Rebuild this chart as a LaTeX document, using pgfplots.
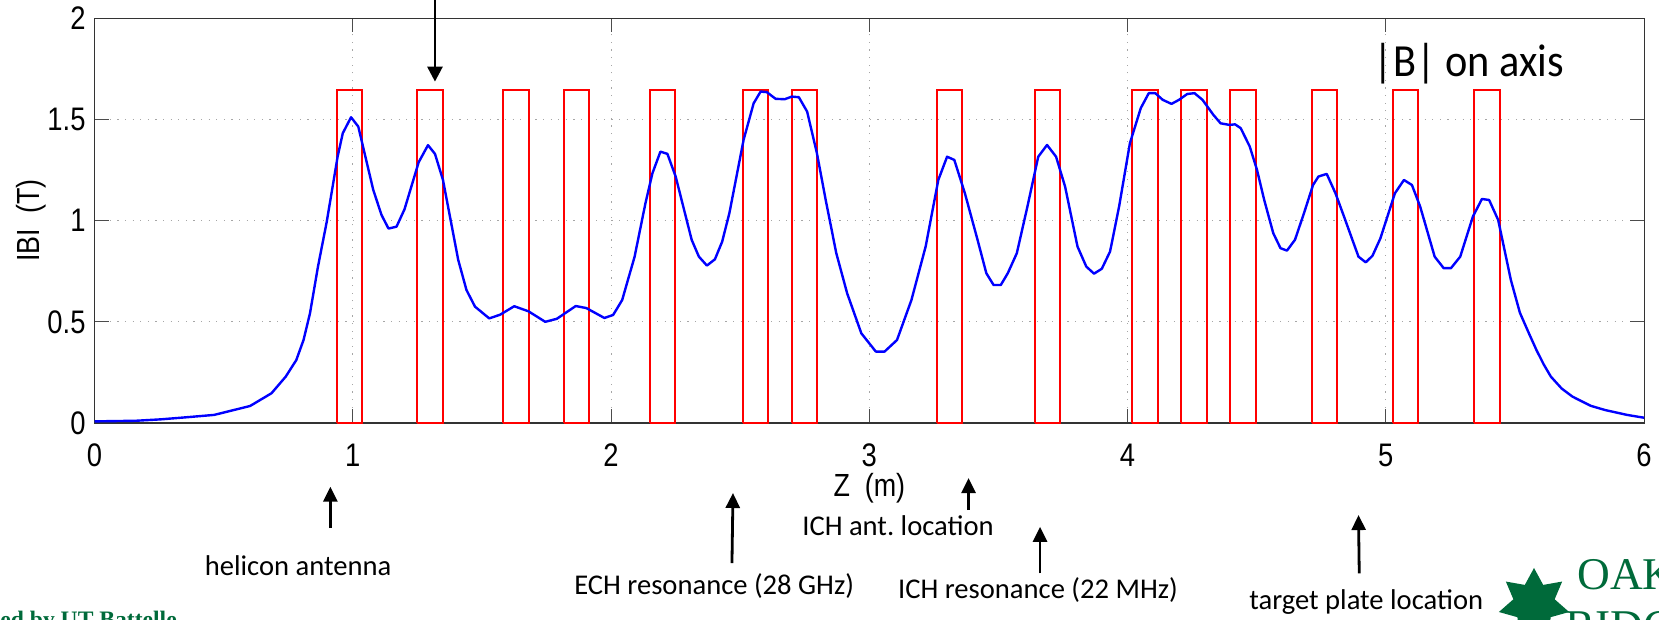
\documentclass[border=0pt]{standalone}
\usepackage{fontspec}
\setmainfont{Liberation Sans}
\newfontfamily\tickfont[FakeStretch=0.84]{Liberation Sans}
\newfontfamily\calib{Carlito}
\newfontfamily\calibbig[FakeStretch=0.92]{Carlito}
\newfontfamily\tnr{Liberation Serif}
\usepackage{pgfplots}
\pgfplotsset{compat=1.18}
\usetikzlibrary{arrows.meta,shapes.geometric}
\definecolor{ornlgreen}{RGB}{0,106,58}
\frenchspacing
\begin{document}
\begin{tikzpicture}
\path[use as bounding box] (0,0) rectangle (829.5pt,310pt);
\clip (0,0) rectangle (829.5pt,310pt);
\begin{axis}[
  at={(47.3pt,98.5pt)}, anchor=south west,
  scale only axis, width=774.75pt, height=202.35pt,
  xmin=0, xmax=6, ymin=0, ymax=2,
  xtick={0,1,2,3,4,5,6}, ytick={0,0.5,1,1.5,2},
  /pgf/number format/assume math mode=true,
  tick label style={font=\tickfont\fontsize{16.3}{19}\selectfont},
  xticklabel style={yshift=-7pt},
  yticklabel style={xshift=-1pt},
  tick align=inside, major tick length=7pt,
  tick style={line width=0.6pt, color=black!70},
  axis line style={line width=0.6pt, color=black!80},
  grid=major,
  major grid style={gray!70, line width=0.6pt, dash pattern=on 0.6pt off 3.2pt},
  xlabel={Z\ \ (m)}, ylabel={IBI\ \ (T)},
  label style={font=\tickfont\fontsize{16}{19}\selectfont},
  xlabel style={at={(axis description cs:0.5,-0.161)}, anchor=center},
  ylabel style={at={(axis description cs:-0.041,0.5)}, anchor=center},
  clip=false,
]
% coil rectangles
\addplot[red, line width=1pt, forget plot] coordinates {(0.938,0)(0.938,1.645)(1.037,1.645)(1.037,0)(0.938,0)};
\addplot[red, line width=1pt, forget plot] coordinates {(1.249,0)(1.249,1.645)(1.349,1.645)(1.349,0)(1.249,0)};
\addplot[red, line width=1pt, forget plot] coordinates {(1.582,0)(1.582,1.645)(1.681,1.645)(1.681,0)(1.582,0)};
\addplot[red, line width=1pt, forget plot] coordinates {(1.816,0)(1.816,1.645)(1.916,1.645)(1.916,0)(1.816,0)};
\addplot[red, line width=1pt, forget plot] coordinates {(2.150,0)(2.150,1.645)(2.249,1.645)(2.249,0)(2.150,0)};
\addplot[red, line width=1pt, forget plot] coordinates {(2.510,0)(2.510,1.645)(2.608,1.645)(2.608,0)(2.510,0)};
\addplot[red, line width=1pt, forget plot] coordinates {(2.701,0)(2.701,1.645)(2.798,1.645)(2.798,0)(2.701,0)};
\addplot[red, line width=1pt, forget plot] coordinates {(3.261,0)(3.261,1.645)(3.358,1.645)(3.358,0)(3.261,0)};
\addplot[red, line width=1pt, forget plot] coordinates {(3.640,0)(3.640,1.645)(3.738,1.645)(3.738,0)(3.640,0)};
\addplot[red, line width=1pt, forget plot] coordinates {(4.017,0)(4.017,1.645)(4.117,1.645)(4.117,0)(4.017,0)};
\addplot[red, line width=1pt, forget plot] coordinates {(4.207,0)(4.207,1.645)(4.307,1.645)(4.307,0)(4.207,0)};
\addplot[red, line width=1pt, forget plot] coordinates {(4.398,0)(4.398,1.645)(4.496,1.645)(4.496,0)(4.398,0)};
\addplot[red, line width=1pt, forget plot] coordinates {(4.713,0)(4.713,1.645)(4.811,1.645)(4.811,0)(4.713,0)};
\addplot[red, line width=1pt, forget plot] coordinates {(5.026,0)(5.026,1.645)(5.125,1.645)(5.125,0)(5.026,0)};
\addplot[red, line width=1pt, forget plot] coordinates {(5.341,0)(5.341,1.645)(5.441,1.645)(5.441,0)(5.341,0)};
% |B| on axis
\addplot[blue, line width=1.2pt, line join=round] coordinates {
(0,0.008)(0.159,0.011)(0.256,0.018)(0.353,0.028)(0.463,0.040)(0.602,0.084)
(0.685,0.147)(0.740,0.229)(0.781,0.311)(0.809,0.410)(0.834,0.542)
(0.865,0.773)(0.899,0.995)(0.941,1.316)(0.961,1.432)(0.993,1.511)
(1.021,1.465)(1.079,1.152)(1.111,1.028)(1.138,0.961)(1.169,0.970)(1.200,1.056)
(1.255,1.289)(1.291,1.373)(1.318,1.330)(1.349,1.201)(1.408,0.806)(1.440,0.657)
(1.473,0.575)(1.528,0.517)(1.570,0.535)(1.625,0.577)(1.680,0.552)(1.745,0.500)
(1.790,0.515)(1.863,0.578)(1.904,0.568)(1.974,0.519)(2.008,0.534)(2.043,0.608)
(2.091,0.822)(2.133,1.086)(2.160,1.234)(2.191,1.341)(2.218,1.330)(2.250,1.218)
(2.312,0.905)(2.340,0.822)(2.371,0.778)(2.402,0.809)(2.430,0.896)(2.458,1.037)
(2.513,1.399)(2.552,1.580)(2.579,1.638)(2.603,1.635)(2.637,1.602)(2.672,1.600)
(2.700,1.613)(2.727,1.610)(2.759,1.539)(2.797,1.333)(2.831,1.102)(2.872,0.839)
(2.914,0.641)(2.969,0.443)(3.025,0.353)(3.059,0.353)(3.107,0.410)(3.163,0.608)
(3.218,0.872)(3.267,1.201)(3.301,1.316)(3.329,1.300)(3.370,1.135)(3.419,0.905)
(3.453,0.740)(3.481,0.682)(3.509,0.682)(3.536,0.740)(3.571,0.839)(3.612,1.069)
(3.654,1.316)(3.688,1.374)(3.723,1.316)(3.758,1.168)(3.806,0.872)(3.840,0.773)
(3.870,0.738)(3.900,0.762)(3.932,0.847)(3.967,1.069)(4.009,1.383)(4.051,1.556)
(4.082,1.630)(4.107,1.630)(4.136,1.597)(4.170,1.577)(4.199,1.597)(4.231,1.626)
(4.259,1.630)(4.290,1.597)(4.332,1.523)(4.360,1.481)(4.395,1.473)(4.416,1.476)
(4.438,1.457)(4.473,1.366)(4.501,1.251)(4.529,1.102)(4.564,0.938)(4.592,0.864)
(4.617,0.852)(4.648,0.905)(4.683,1.037)(4.718,1.176)(4.739,1.218)(4.771,1.231)
(4.805,1.135)(4.838,1.020)(4.894,0.822)(4.922,0.794)(4.948,0.826)(4.979,0.913)
(5.035,1.135)(5.070,1.201)(5.101,1.176)(5.133,1.069)(5.189,0.822)(5.224,0.765)
(5.252,0.765)(5.288,0.822)(5.337,1.020)(5.372,1.107)(5.400,1.102)(5.435,1.003)
(5.484,0.707)(5.519,0.545)(5.554,0.443)(5.583,0.361)(5.611,0.290)(5.639,0.229)
(5.681,0.170)(5.723,0.130)(5.793,0.085)(5.849,0.064)(5.934,0.040)(6.000,0.026)};
% annotations
\node[font=\calibbig\fontsize{23}{26}\selectfont, anchor=base] at (axis cs:5.322,1.711) {|B| on axis};
\draw[line width=1.4pt, -{Triangle[length=7.5pt,width=7.5pt]}] (axis cs:1.318,2.15) -- (axis cs:1.318,1.687);
\draw[line width=1.4pt, -{Triangle[length=7.5pt,width=7pt]}] (axis cs:0.913,-0.519) -- (axis cs:0.913,-0.315);
\node[font=\calib\fontsize{14.3}{17}\selectfont, anchor=base] at (axis cs:0.788,-0.756) {helicon antenna};
\draw[line width=1.4pt, -{Triangle[length=7.5pt,width=7pt]}] (axis cs:2.468,-0.692) -- (axis cs:2.472,-0.346);
\node[font=\calib\fontsize{14.3}{17}\selectfont, anchor=base] at (axis cs:2.399,-0.850) {ECH resonance (28 GHz)};
\draw[line width=1.4pt, -{Triangle[length=7.5pt,width=7pt]}] (axis cs:3.384,-0.430) -- (axis cs:3.384,-0.272);
\node[font=\calib\fontsize{14.3}{17}\selectfont, anchor=base] at (axis cs:3.111,-0.554) {ICH ant.\ location};
\draw[line width=1.4pt, -{Triangle[length=7.5pt,width=7pt]}] (axis cs:3.661,-0.743) -- (axis cs:3.661,-0.513);
\node[font=\calib\fontsize{14.3}{17}\selectfont, anchor=base] at (axis cs:3.653,-0.867) {ICH resonance (22 MHz)};
\draw[line width=1.4pt, -{Triangle[length=7.5pt,width=7pt]}] (axis cs:4.897,-0.743) -- (axis cs:4.894,-0.455);
\node[font=\calib\fontsize{14.3}{17}\selectfont, anchor=base] at (axis cs:4.924,-0.924) {target plate location};
\end{axis}
% footer fragments
\node[font=\tnr\bfseries\fontsize{11.8}{14}\selectfont, text=ornlgreen, anchor=base west, inner sep=0pt] at (0pt,-3.6pt) {ed by UT Battelle};
\node[star, star points=7, star point ratio=1.7, fill=ornlgreen, minimum size=36pt, inner sep=0pt] at (767pt,8pt) {};
\node[font=\tnr\fontsize{22.7}{26}\selectfont, text=ornlgreen, anchor=base west, inner sep=0pt] at (788.4pt,15pt) {OAK};
\node[font=\tnr\fontsize{22.7}{26}\selectfont, text=ornlgreen, anchor=base west, inner sep=0pt] at (782.5pt,-11pt) {RIDGE};
\end{tikzpicture}
\end{document}
